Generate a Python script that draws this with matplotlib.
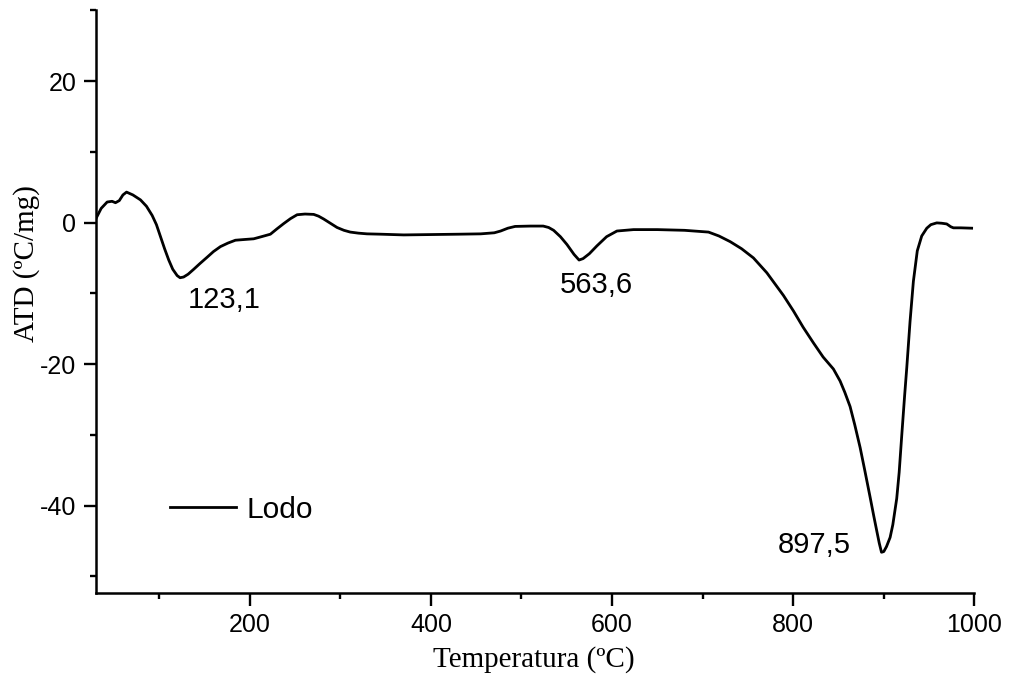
import numpy as np
import matplotlib
matplotlib.use('Agg')
import matplotlib.pyplot as plt
from matplotlib.ticker import MultipleLocator

# DTA curve of the sludge sample (temperature in ºC, signal in ºC/mg)
temperature = [30, 36, 42.6, 48, 51.8, 56, 60, 64, 71, 79.4, 86, 92.3, 97, 101.5,
               106, 110.6, 115, 119.9, 123.1, 127, 132, 138.2, 145, 153, 160,
               167.7, 176, 184.2, 194, 204.4, 213, 222.8, 230, 237.5, 245, 252.3,
               261, 270.6, 276, 281.6, 289, 296.4, 304, 311, 320, 329.5, 345, 370,
               400, 430, 455, 470, 477, 485, 493, 510, 524, 530, 535.5, 543,
               550.2, 558, 563.6, 568, 575, 583.3, 594, 605.4, 623.7, 650, 680,
               706.5, 718, 730.4, 743, 756.1, 770.9, 789.2, 800.3, 811, 822.3,
               833, 844.4, 851.8, 857, 862.8, 868, 873.9, 879, 884.9, 889, 892.3,
               895, 897.5, 900, 903, 907, 910, 914.3, 917, 919.9, 923, 925.4, 929,
               932.7, 937, 941.9, 947.5, 952, 958.5, 964, 969.5, 974, 976.9, 985, 997]
atd = [0.5, 2.0, 2.9, 3.0, 2.8, 3.1, 3.9, 4.3, 3.9, 3.2, 2.3, 1.0, -0.3, -2.0,
       -3.7, -5.3, -6.6, -7.5, -7.8, -7.7, -7.3, -6.6, -5.8, -4.9, -4.1,
       -3.4, -2.9, -2.5, -2.4, -2.3, -2.0, -1.65, -0.9, -0.15, 0.55, 1.1,
       1.2, 1.15, 0.9, 0.5, -0.1, -0.7, -1.1, -1.35, -1.5, -1.6, -1.65, -1.75,
       -1.7, -1.65, -1.6, -1.45, -1.2, -0.8, -0.55, -0.5, -0.5, -0.7, -1.1, -2.0,
       -3.1, -4.5, -5.3, -5.1, -4.4, -3.3, -2.0, -1.2, -1.0, -1.0, -1.1,
       -1.35, -1.9, -2.7, -3.7, -5.0, -7.1, -10.3, -12.5, -14.8, -17.0,
       -19.0, -20.7, -22.4, -24.0, -26.0, -28.6, -31.8, -35.0, -38.8, -41.5, -43.6,
       -45.3, -46.6, -46.5, -45.8, -44.5, -42.7, -39.0, -35.3, -30.0, -24.5, -20.5, -14.0,
       -8.3, -4.0, -1.9, -0.8, -0.3, -0.05, -0.1, -0.2, -0.6, -0.75, -0.75, -0.8]

# endothermic peaks and where their labels sit relative to them
peak_temps = [123.1, 563.6, 897.5]
peak_labels = ['123,1', '563,6', '897,5']
label_offsets = [(48.4, -3.2), (19.0, -3.5), (-74.5, 1.0)]

SANS = ['Liberation Sans', 'DejaVu Sans']
SERIF = ['Liberation Serif', 'DejaVu Serif']

plt.rcParams['axes.unicode_minus'] = False

fig = plt.figure(figsize=(10.1, 6.83), dpi=100)
ax = fig.add_axes([0.0948, 0.1313, 0.8699, 0.8537])

ax.plot(temperature, atd, color='black', lw=2.0, label='Lodo')

for t, lab, (dx, dy) in zip(peak_temps, peak_labels, label_offsets):
    y_peak = np.interp(t, temperature, atd)
    ax.text(t + dx, y_peak + dy, lab, ha='center', va='center',
            fontsize=21, family=SANS)

ax.set_xlim(30, 1000)
ax.set_ylim(-52.4, 30)
ax.xaxis.set_major_locator(MultipleLocator(200))
ax.xaxis.set_minor_locator(MultipleLocator(100))
ax.yaxis.set_major_locator(MultipleLocator(20))
ax.yaxis.set_minor_locator(MultipleLocator(10))

for side in ['top', 'right']:
    ax.spines[side].set_visible(False)
for side in ['left', 'bottom']:
    ax.spines[side].set_linewidth(1.8)

ax.tick_params(which='major', direction='out', length=9, width=1.7, pad=5,
               labelsize=18)
ax.tick_params(which='minor', direction='out', length=4.5, width=1.7)
for lbl in ax.get_xticklabels() + ax.get_yticklabels():
    lbl.set_family(SANS)

ax.set_xlabel('Temperatura (ºC)', fontsize=21, family=SERIF)
ax.set_ylabel('ATD (ºC/mg)', fontsize=21, family=SERIF)
ax.xaxis.set_label_coords(0.499, -0.091)
ax.yaxis.set_label_coords(-0.064, 0.565)

ax.legend(loc='center left', bbox_to_anchor=(0.0846, 0.143), frameon=False,
          borderpad=0, borderaxespad=0, handlelength=2.2, handletextpad=0.35,
          prop={'family': SANS, 'size': 21.5})

fig.savefig('out.png', dpi=100)
